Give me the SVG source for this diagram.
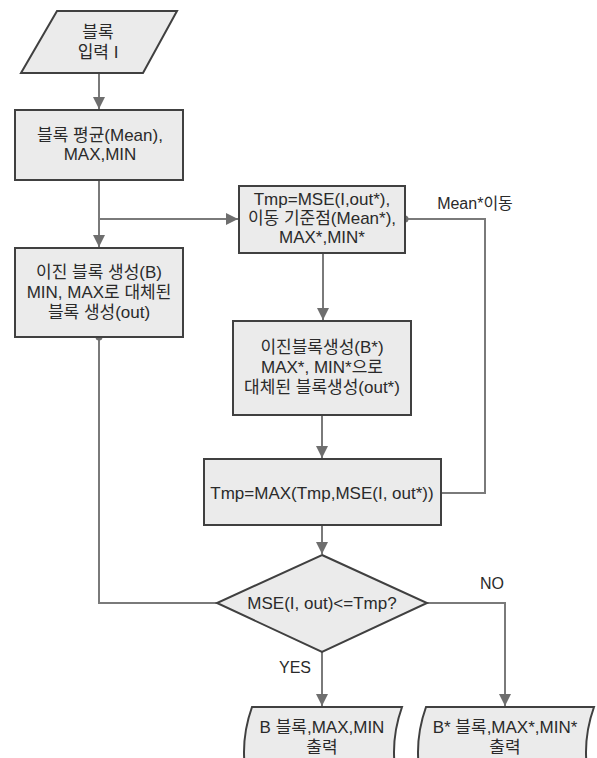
<svg xmlns="http://www.w3.org/2000/svg" width="597" height="758" viewBox="0 0 597 758">
<style>
.node{fill:#ebebeb;stroke:#404040;stroke-width:2}
.conn{fill:none;stroke:#7a7a7a;stroke-width:2}
text{font-family:"Liberation Sans","Noto Sans CJK KR",sans-serif;font-size:17px;fill:#2a2a2a;text-anchor:middle}
.lbl{font-size:16px}
</style>
<defs>
<marker id="arr" markerUnits="userSpaceOnUse" markerWidth="12" markerHeight="12" refX="10" refY="5" orient="auto" viewBox="0 0 10 10">
<path d="M0,0 L10,5 L0,10 Z" fill="#6e6e6e"/>
</marker>
</defs>
<rect width="597" height="758" fill="#ffffff"/>
<g id="connectors">
<path class="conn" d="M99,74 V109" marker-end="url(#arr)"/>
<path class="conn" d="M99,180 V247" marker-end="url(#arr)"/>
<path class="conn" d="M99,219 H238" marker-end="url(#arr)"/>
<path class="conn" d="M323,253 V320" marker-end="url(#arr)"/>
<path class="conn" d="M322,415 V458" marker-end="url(#arr)"/>
<path class="conn" d="M322,525 V554" marker-end="url(#arr)"/>
<path class="conn" d="M405,219 H485 V493 H441"/>
<circle cx="405" cy="219" r="3.5" fill="#6e6e6e"/>
<path class="conn" d="M99,337 V603 H217"/>
<circle cx="99" cy="337" r="3.5" fill="#6e6e6e"/>
<path class="conn" d="M427,603 H505 V706" marker-end="url(#arr)"/>
<path class="conn" d="M322,652 V706" marker-end="url(#arr)"/>
<text class="lbl" x="475" y="209">Mean*이동</text>
<text class="lbl" x="492" y="589">NO</text>
<text class="lbl" x="295" y="673">YES</text>
</g>
<g id="input">
<path class="node" d="M57,11 H177 L143,73 H21 Z"/>
<text x="98" y="38">블록</text>
<text x="98" y="58">입력 I</text>
</g>
<g id="mean">
<rect class="node" x="15" y="110" width="168" height="70"/>
<text x="100" y="141">블록 평균(Mean),</text>
<text x="100" y="160">MAX,MIN</text>
</g>
<g id="binary">
<rect class="node" x="15" y="248" width="168" height="89"/>
<text x="99" y="278">이진 블록 생성(B)</text>
<text x="99" y="298">MIN, MAX로 대체된</text>
<text x="99" y="318">블록 생성(out)</text>
</g>
<g id="tmp">
<rect class="node" x="239" y="186" width="166" height="67"/>
<text x="322" y="205">Tmp=MSE(I,out*),</text>
<text x="322" y="224">이동 기준점(Mean*),</text>
<text x="322" y="243">MAX*,MIN*</text>
</g>
<g id="binary2">
<rect class="node" x="233" y="321" width="178" height="94"/>
<text x="322" y="353">이진블록생성(B*)</text>
<text x="322" y="373">MAX*, MIN*으로</text>
<text x="322" y="393">대체된 블록생성(out*)</text>
</g>
<g id="tmpmax">
<rect class="node" x="204" y="459" width="237" height="66"/>
<text x="322" y="499">Tmp=MAX(Tmp,MSE(I, out*))</text>
</g>
<g id="decision">
<path class="node" d="M322,555 L427,603 L322,652 L217,603 Z"/>
<text x="322" y="609">MSE(I, out)&lt;=Tmp?</text>
</g>
<g id="outB">
<path class="node" d="M252,707 H402 Q386,752 402,797 H252 Q236,752 252,707 Z"/>
<text x="322" y="733">B 블록,MAX,MIN</text>
<text x="322" y="753">출력</text>
</g>
<g id="outBstar">
<path class="node" d="M426,707 H594 Q578,752 594,797 H426 Q410,752 426,707 Z"/>
<text x="505" y="733">B* 블록,MAX*,MIN*</text>
<text x="505" y="753">출력</text>
</g>
</svg>
